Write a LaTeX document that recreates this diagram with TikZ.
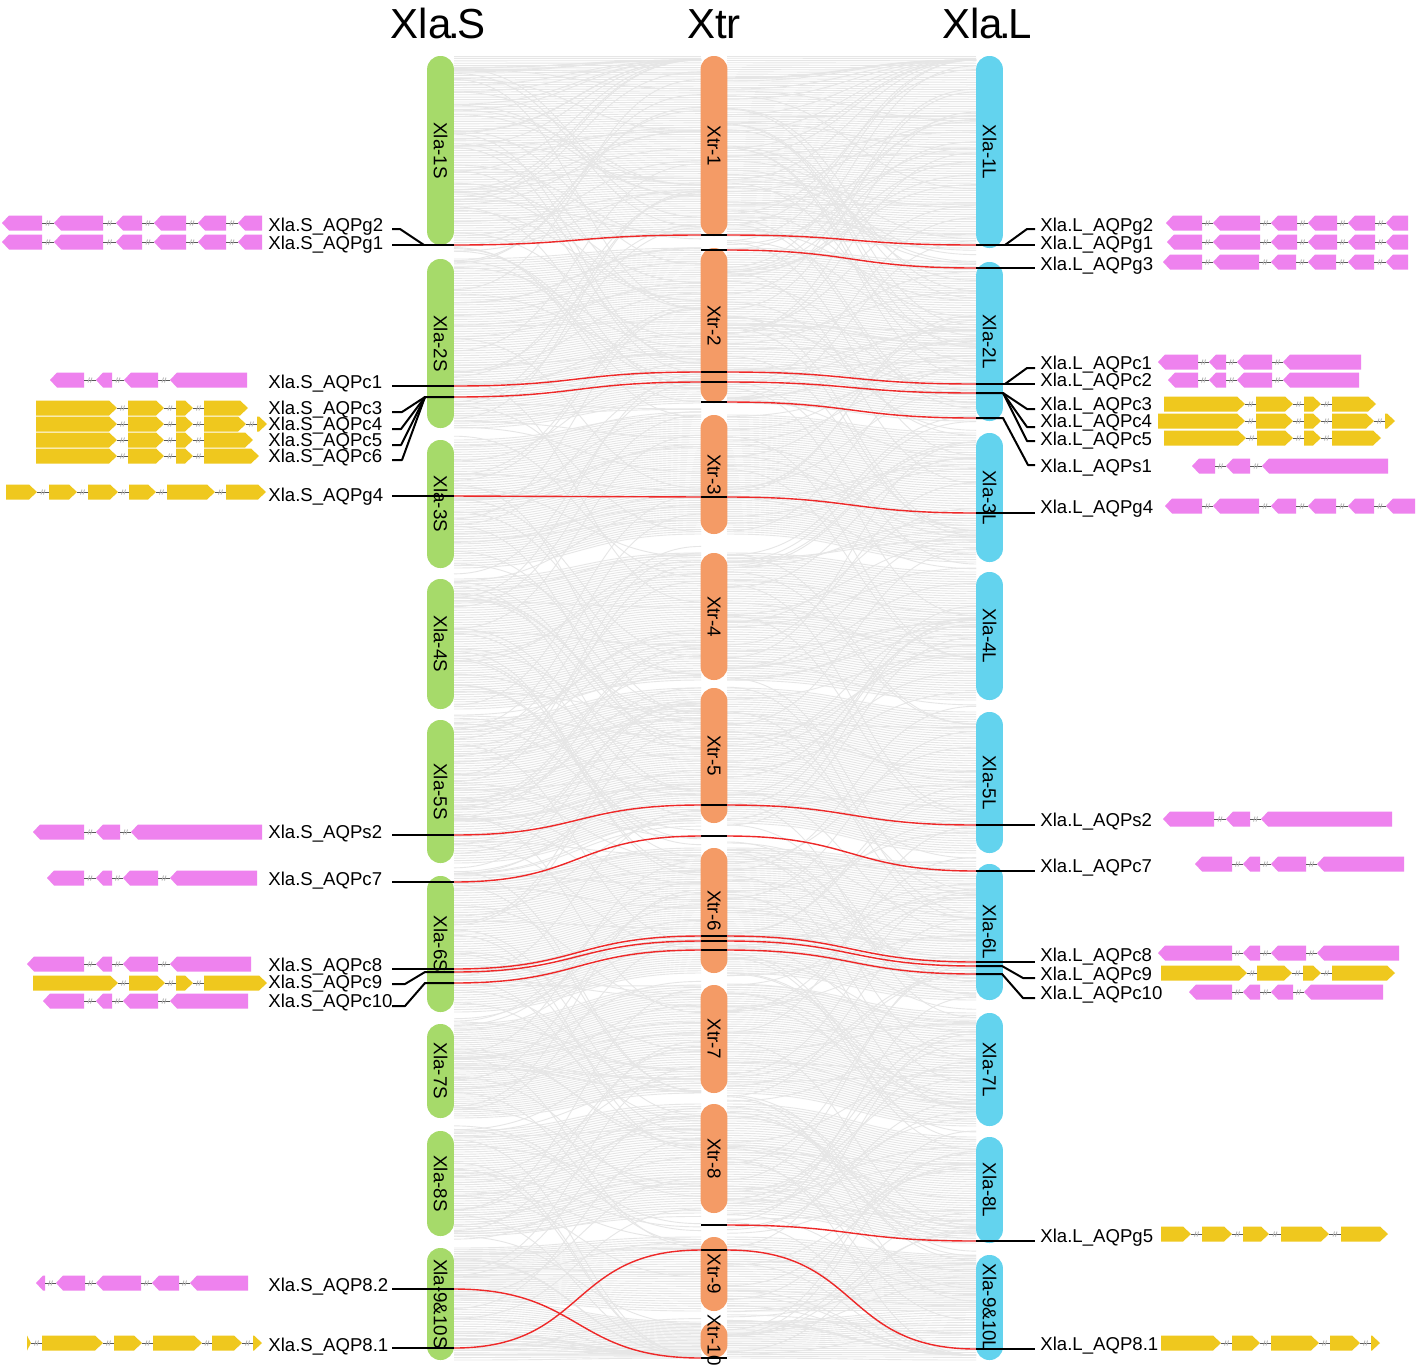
\documentclass[tikz,border=0pt]{standalone}
\usepackage{fontspec}
\setmainfont{Liberation Sans}
\usetikzlibrary{positioning}

\definecolor{chrS}{RGB}{166,218,106}
\definecolor{chrX}{RGB}{244,155,102}
\definecolor{chrL}{RGB}{99,211,238}
\definecolor{exonpink}{RGB}{238,130,238}
\definecolor{exongold}{RGB}{239,200,30}
\definecolor{synred}{RGB}{238,40,40}
\definecolor{syngrey}{RGB}{230,230,230}

% gene structures: pink exons point left, gold exons point right
\newcommand\pinkrow[2]{%
  \foreach \a/\b [count=\k, remember=\b as \pb (initially 0)] in {#2}{%
    \ifnum\k>1
      \draw[linker] (\pb,#1) -- (\a,#1);
      \pic at ({(\pb+\a)/2},#1) {brk};
    \fi
    \pgfmathsetmacro\tp{min(7,\b-\a)}%
    \fill[exonpink] (\a,#1) -- (\a+\tp,#1-7.5) -- (\b,#1-7.5) -- (\b,#1+7.5) -- (\a+\tp,#1+7.5) -- cycle;
  }}
\newcommand\goldrow[2]{%
  \foreach \a/\b [count=\k, remember=\b as \pb (initially 0)] in {#2}{%
    \ifnum\k>1
      \draw[linker] (\pb,#1) -- (\a,#1);
      \pic at ({(\pb+\a)/2},#1) {brk};
    \fi
    \pgfmathsetmacro\tp{min(8,\b-\a)}%
    \fill[exongold] (\a,#1-7.5) -- (\b-\tp,#1-7.5) -- (\b,#1) -- (\b-\tp,#1+7.5) -- (\a,#1+7.5) -- cycle;
  }}

\begin{document}
\begin{tikzpicture}[
    x=0.5pt, y=-0.5pt,
    % === STYLES ===
    chrom/.style={
        rectangle,
        rounded corners=6.6pt,
        minimum width=13.4pt,
        inner sep=0pt,
        draw=none
    },
    chrlab/.style={
        rotate=-90,
        inner sep=0pt,
        font=\fontsize{9.4}{10}\selectfont
    },
    title/.style={
        anchor=base,
        inner sep=0pt,
        font=\fontsize{21}{24}\selectfont
    },
    gname/.style={
        anchor=base west,
        inner sep=0pt,
        font=\fontsize{9.3}{10}\selectfont
    },
    synbg/.style={
        color=syngrey,
        line width=0.45pt
    },
    link/.style={
        color=synred,
        line width=0.7pt
    },
    syn/.style={
        out=0, in=180,
        looseness=1.28
    },
    xtick/.style={
        line width=1pt
    },
    leader/.style={
        line width=1pt,
        line join=round
    },
    linker/.style={
        color=black!65,
        line width=0.5pt
    },
    brk/.pic={
        \draw[gray!60, line width=0.4pt] (-2,2.5) -- (-0.5,-2.5) (0.5,2.5) -- (2,-2.5);
    }
]

\useasboundingbox (0,0) rectangle (1418,1366);
\fill[white] (0,0) rectangle (1418,1366);

% === BACKGROUND SYNTENY ===
\foreach \a/\b/\c/\d in {56/245/56/236, 259/428/248/403, 440/568/415/534,
    579/709/553/680, 720/863/688/823, 876/1012/848/973, 1024/1118/985/1093,
    1131/1236/1104/1213, 1248/1300/1237/1311, 1300/1360/1322/1358}{
  \pgfmathtruncatemacro\nn{max(\b-\a,\d-\c)/2.4}
  \foreach \k in {0,...,\nn}{
    \pgfmathsetmacro\ya{\a+\k/\nn*(\b-\a)}
    \pgfmathsetmacro\yb{\c+\k/\nn*(\d-\c)}
    \draw[synbg] (454,\ya) .. controls (578,\ya) and (578,\yb) .. (701,\yb);
  }
}
\foreach \a/\b/\c/\d in {56/236/56/248, 248/403/262/421, 415/534/433/562,
    553/680/572/700, 688/823/712/853, 848/973/864/1000, 985/1093/1013/1126,
    1104/1213/1137/1243, 1237/1311/1255/1310, 1322/1358/1310/1360}{
  \pgfmathtruncatemacro\nn{max(\b-\a,\d-\c)/2.4}
  \foreach \k in {0,...,\nn}{
    \pgfmathsetmacro\ya{\a+\k/\nn*(\b-\a)}
    \pgfmathsetmacro\yb{\c+\k/\nn*(\d-\c)}
    \draw[synbg] (727,\ya) .. controls (852,\ya) and (852,\yb) .. (976,\yb);
  }
}
\pgfmathsetseed{42}
\foreach \i in {1,...,260}{
  \pgfmathsetmacro\ya{60+1295*rnd}
  \pgfmathsetmacro\yb{max(60,min(1355,\ya+460*(rnd-0.5)))}
  \draw[synbg] (454,\ya) .. controls (578,\ya) and (578,\yb) .. (701,\yb);
  \pgfmathsetmacro\ya{60+1295*rnd}
  \pgfmathsetmacro\yb{max(60,min(1355,\ya+460*(rnd-0.5)))}
  \draw[synbg] (727,\ya) .. controls (852,\ya) and (852,\yb) .. (976,\yb);
}

% === TITLES ===
\node[title] (tS) at (438,38) {Xla\kern-1.5pt.\kern-1.5pt S};
\node[title] (tX) at (714,38) {Xtr};
\node[title] (tL) at (987,38) {Xla\kern-1.5pt.\kern-1.5pt L};

% === CHROMOSOMES ===
\foreach \nm/\ya/\yb/\lab in {S1/56/245/Xla-1S, S2/259/428/Xla-2S, S3/440/568/Xla-3S,
    S4/579/709/Xla-4S, S5/720/863/Xla-5S, S6/876/1012/Xla-6S, S7/1024/1118/Xla-7S,
    S8/1131/1236/Xla-8S, S9/1248/1360/Xla-9\&10S}{
  \node[chrom, fill=chrS, minimum height={(\yb-\ya)*0.5pt}] (\nm) at (440.5,{(\ya+\yb)/2}) {};
  \node[chrlab] (\nm-t) at (\nm) {\lab};
}
\foreach \nm/\ya/\yb/\lab in {X1/56/236/Xtr-1, X2/248/403/Xtr-2, X3/415/534/Xtr-3,
    X4/553/680/Xtr-4, X5/688/823/Xtr-5, X6/848/973/Xtr-6, X7/985/1093/Xtr-7,
    X8/1104/1213/Xtr-8, X9/1237/1311/Xtr-9, X10/1322/1358/Xtr-10}{
  \node[chrom, fill=chrX, minimum height={(\yb-\ya)*0.5pt}] (\nm) at (714,{(\ya+\yb)/2}) {};
  \node[chrlab] (\nm-t) at (\nm) {\lab};
}
\foreach \nm/\ya/\yb/\lab in {L1/56/248/Xla-1L, L2/262/421/Xla-2L, L3/433/562/Xla-3L,
    L4/572/700/Xla-4L, L5/712/853/Xla-5L, L6/864/1000/Xla-6L, L7/1013/1126/Xla-7L,
    L8/1137/1243/Xla-8L, L9/1255/1360/Xla-9\&10L}{
  \node[chrom, fill=chrL, minimum height={(\yb-\ya)*0.5pt}] (\nm) at (989.5,{(\ya+\yb)/2}) {};
  \node[chrlab] (\nm-t) at (\nm) {\lab};
}

% === GENE POSITIONS ===
\foreach \n/\y in {g1/245, c1/386, c3/397, g4/496, s2/835, c7/882, c8/969,
    c9/972, c10/983, p82/1289, p81/1348}
  \coordinate (S\n) at (454,\y);
\foreach \n/\y in {1/235, 2/250, 3/372, 4/382, 5/402, 6/497, 7/805, 8/836,
    9/936, 10/941, 11/950, 12/1225, 13/1250, 14/1358}{
  \coordinate (Tw\n) at (701,\y);
  \coordinate (Te\n) at (727,\y);
  \draw[xtick] (Tw\n) -- (Te\n);
}
\foreach \n/\y in {g1/245, g3/268, c2/384, c3/393, s1/418, g4/513, s2/825,
    c7/871, c8/962, c9/966, c10/974, g5/1241, p81/1349}
  \coordinate (L\n) at (976,\y);

% === SYNTENIC AQP PAIRS ===
\draw[link] (Sg1) to[syn] (Tw1);
\draw[link] (Sc1) to[syn] (Tw3);
\draw[link] (Sc3) to[syn] (Tw4);
\draw[link] (Sg4) to[syn] (Tw6);
\draw[link] (Ss2) to[syn] (Tw7);
\draw[link] (Sc7) to[syn] (Tw8);
\draw[link] (Sc8) to[syn] (Tw9);
\draw[link] (Sc9) to[syn] (Tw10);
\draw[link] (Sc10) to[syn] (Tw11);
\draw[link] (Sp82) to[syn] (Tw14);
\draw[link] (Sp81) to[syn] (Tw13);

\draw[link] (Te1) to[syn] (Lg1);
\draw[link] (Te2) to[syn] (Lg3);
\draw[link] (Te3) to[syn] (Lc2);
\draw[link] (Te4) to[syn] (Lc3);
\draw[link] (Te5) to[syn] (Ls1);
\draw[link] (Te6) to[syn] (Lg4);
\draw[link] (Te7) to[syn] (Ls2);
\draw[link] (Te8) to[syn] (Lc7);
\draw[link] (Te9) to[syn] (Lc8);
\draw[link] (Te10) to[syn] (Lc9);
\draw[link] (Te11) to[syn] (Lc10);
\draw[link] (Te12) to[syn] (Lg5);
\draw[link] (Te13) to[syn] (Lp81);

% === GENE NAMES ===
\foreach \n/\y/\txt in {g2/231/AQPg2, g1/249/AQPg1, c1/388/AQPc1, c3/414/AQPc3,
    c4/430/AQPc4, c5/446/AQPc5, c6/462/AQPc6, g4/501/AQPg4, s2/838/AQPs2,
    c7/885/AQPc7, c8/971/AQPc8, c9/988/AQPc9, c10/1007/AQPc10,
    p82/1291/AQP8.2, p81/1351/AQP8.1}
  \node[gname] (lS\n) at (268,\y) {Xla.S\_\txt};
\foreach \n/\y/\txt in {g2/231/AQPg2, g1/249/AQPg1, g3/270/AQPg3, c1/369/AQPc1,
    c2/386/AQPc2, c3/410/AQPc3, c4/427/AQPc4, c5/445/AQPc5, s1/472/AQPs1,
    g4/513/AQPg4, s2/826/AQPs2, c7/872/AQPc7, c8/961/AQPc8, c9/980/AQPc9,
    c10/999/AQPc10, g5/1242/AQPg5, p81/1350/AQP8.1}
  \node[gname] (lL\n) at (1040,\y) {Xla.L\_\txt};

% leaders, XlaS
\draw[leader] (392,229) -- (400,229) -- (424,245);
\draw[leader] (392,245) -- (Sg1);
\draw[leader] (392,386) -- (Sc1);
\draw[leader] (392,412) -- (402,412) -- (425,397) -- (Sc3);
\draw[leader] (392,429) -- (401,429) -- (425,397);
\draw[leader] (392,445) -- (401,445) -- (425,397);
\draw[leader] (392,460) -- (402,460) -- (425,397);
\draw[leader] (392,496) -- (Sg4);
\draw[leader] (392,835) -- (Ss2);
\draw[leader] (392,882) -- (Sc7);
\draw[leader] (392,969) -- (Sc8);
\draw[leader] (392,984) -- (405,984) -- (425,972) -- (Sc9);
\draw[leader] (392,1006) -- (405,1006) -- (425,983) -- (Sc10);
\draw[leader] (392,1289) -- (Sp82);
\draw[leader] (392,1348) -- (Sp81);

% leaders, XlaL
\draw[leader] (Lg1) -- (1035,245);
\draw[leader] (1005,245) -- (1027,229) -- (1035,229);
\draw[leader] (Lg3) -- (1035,268);
\draw[leader] (Lc2) -- (1035,384);
\draw[leader] (1005,384) -- (1027,368) -- (1035,368);
\draw[leader] (Lc3) -- (1003,393) -- (1027,409) -- (1035,409);
\draw[leader] (1003,393) -- (1027,427) -- (1035,427);
\draw[leader] (1003,393) -- (1027,441) -- (1035,441);
\draw[leader] (Ls1) -- (1003,418) -- (1028,465) -- (1035,465);
\draw[leader] (Lg4) -- (1035,513);
\draw[leader] (Ls2) -- (1035,825);
\draw[leader] (Lc7) -- (1035,871);
\draw[leader] (Lc8) -- (1035,962);
\draw[leader] (Lc9) -- (1002,966) -- (1023,978) -- (1035,978);
\draw[leader] (Lc10) -- (1002,974) -- (1023,998) -- (1035,998);
\draw[leader] (Lg5) -- (1035,1241);
\draw[leader] (Lp81) -- (1035,1349);

% === GENE STRUCTURES, XlaS ===
\pinkrow{223}{2/42, 54/103, 116/142, 154/186, 198/226, 238/262}
\pinkrow{242}{2/42, 54/103, 116/142, 154/186, 198/226, 238/262}
\pinkrow{380}{50/84, 96/112, 124/158, 170/247}
\goldrow{408}{36/117, 128/164, 176/193, 204/248}
\goldrow{424}{36/117, 128/164, 176/193, 204/246, 257/267}
\goldrow{440}{36/117, 128/164, 176/193, 204/253}
\goldrow{456}{36/117, 128/164, 176/193, 204/259}
\goldrow{492}{6/37, 49/77, 88/118, 129/156, 167/215, 226/266}
\pinkrow{832}{33/84, 96/120, 131/262}
\pinkrow{878}{47/84, 96/112, 123/158, 170/257}
\pinkrow{964}{27/84, 96/112, 123/158, 170/251}
\goldrow{983}{33/118, 129/165, 176/193, 204/267}
\pinkrow{1001}{43/84, 96/112, 123/158, 170/248}
\pinkrow{1283}{36/45, 56/85, 96/141, 152/179, 190/248}
\goldrow{1343}{27/31, 42/103, 114/142, 153/202, 212/242, 253/262}

% === GENE STRUCTURES, XlaL ===
\pinkrow{223}{1166/1202, 1213/1260, 1271/1297, 1308/1337, 1348/1375, 1386/1408}
\pinkrow{242}{1167/1202, 1213/1260, 1271/1297, 1308/1337, 1348/1375, 1386/1408}
\pinkrow{262}{1163/1202, 1213/1259, 1271/1296, 1308/1336, 1348/1374, 1386/1408}
\pinkrow{362}{1158/1198, 1209/1226, 1237/1272, 1283/1361}
\pinkrow{380}{1168/1198, 1209/1226, 1237/1272, 1283/1359}
\goldrow{404}{1164/1245, 1256/1293, 1304/1321, 1332/1376}
\goldrow{421}{1158/1245, 1256/1293, 1304/1321, 1332/1374, 1385/1395}
\goldrow{438}{1164/1246, 1257/1293, 1304/1321, 1332/1381}
\pinkrow{466}{1192/1215, 1226/1250, 1262/1388}
\pinkrow{506}{1165/1202, 1213/1259, 1271/1296, 1308/1336, 1348/1374, 1386/1415}
\pinkrow{819}{1163/1214, 1226/1250, 1261/1392}
\pinkrow{864}{1195/1232, 1243/1260, 1271/1306, 1317/1404}
\pinkrow{953}{1158/1232, 1243/1260, 1271/1306, 1317/1399}
\goldrow{973}{1161/1247, 1257/1292, 1303/1321, 1332/1395}
\pinkrow{992}{1189/1232, 1243/1260, 1271/1293, 1304/1383}
\goldrow{1234}{1161/1191, 1202/1232, 1243/1269, 1281/1329, 1341/1388}
\goldrow{1343}{1161/1221, 1232/1260, 1271/1319, 1330/1360, 1371/1380}

\end{tikzpicture}
\end{document}
